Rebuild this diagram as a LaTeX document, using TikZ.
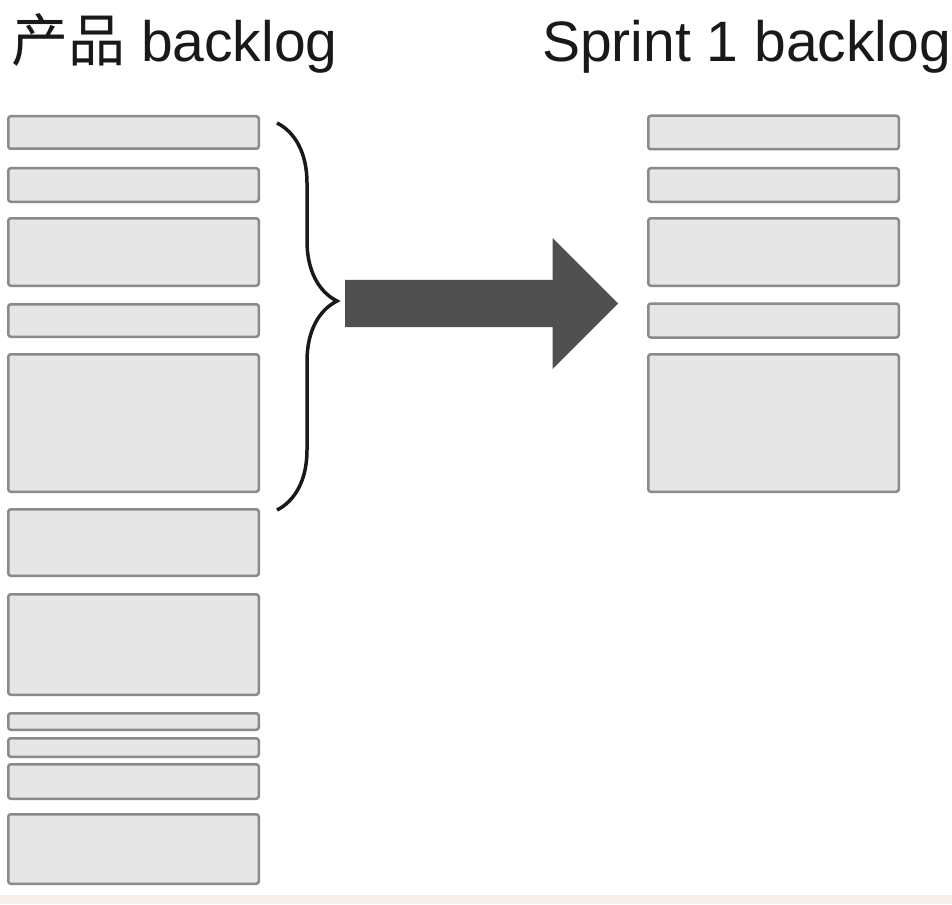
\documentclass[tikz,border=0pt]{standalone}
\usepackage{fontspec}
\setmainfont{Liberation Sans}
\newfontfamily\cjk{Noto Sans CJK SC}
\usepackage{tikz}
\usetikzlibrary{positioning, shapes.arrows, decorations.pathreplacing}
\definecolor{itemfill}{HTML}{E6E6E6}
\definecolor{itemline}{HTML}{8A8A8A}
\definecolor{movefill}{HTML}{505050}
\definecolor{footer}{HTML}{F4F0E8}

\begin{document}
\begin{tikzpicture}[x=1pt, y=-1pt,
		item/.style={draw=itemline, fill=itemfill, line width=2.5pt, rounded corners=2.5pt, minimum width=250.5pt, inner sep=0pt},
		title/.style={font=\fontsize{57}{60}\selectfont, text=black!90, inner sep=0pt, anchor=base west}]
		\useasboundingbox (0,0) rectangle (952,904);
		\fill[footer] (0,895) rectangle (952,904);
		
		\node[title] (ptitle) at (11,62) {{\cjk 产品} backlog};
		\node[title] (stitle) at (542,62) {Sprint 1 backlog};
		
		\node[item, minimum height=32.5pt, anchor=north west] (p1) at (7,115) {};
		\node[item, minimum height=33.5pt, below=17pt of p1] (p2) {};
		\node[item, minimum height=67.5pt, below=14pt of p2] (p3) {};
		\node[item, minimum height=32.5pt, below=16pt of p3] (p4) {};
		\node[item, minimum height=137.5pt, below=15pt of p4] (p5) {};
		\node[item, minimum height=66.5pt, below=15pt of p5] (p6) {};
		\node[item, minimum height=100.5pt, below=16pt of p6] (p7) {};
		\node[item, minimum height=16.5pt, below=16pt of p7] (p8) {};
		\node[item, minimum height=18.5pt, below=6pt of p8] (p9) {};
		\node[item, minimum height=34.5pt, below=5pt of p9] (p10) {};
		\node[item, minimum height=69.5pt, below=13pt of p10] (p11) {};
		
		\node[item, minimum height=33.5pt, right=387pt of p1] (s1) {};
		\node[item, minimum height=33.5pt, right=387pt of p2] (s2) {};
		\node[item, minimum height=67.5pt, right=387pt of p3] (s3) {};
		\node[item, minimum height=34pt, right=387pt of p4] (s4) {};
		\node[item, minimum height=137.5pt, right=387pt of p5] (s5) {};
		
		\coordinate (btop) at (277,123);
		\coordinate (bbot) at (277,510);
		\draw[line width=3.5pt, black!90, decorate, decoration={brace, amplitude=60pt, aspect=0.46}] (btop) -- (bbot);
		
		\node[single arrow, fill=movefill, single arrow head extend=42pt, single arrow head indent=0pt,
			inner xsep=0pt, inner ysep=23.5pt, minimum height=273pt, anchor=tail] (move) at (345,303.5) {};
	\end{tikzpicture}
\end{document}
